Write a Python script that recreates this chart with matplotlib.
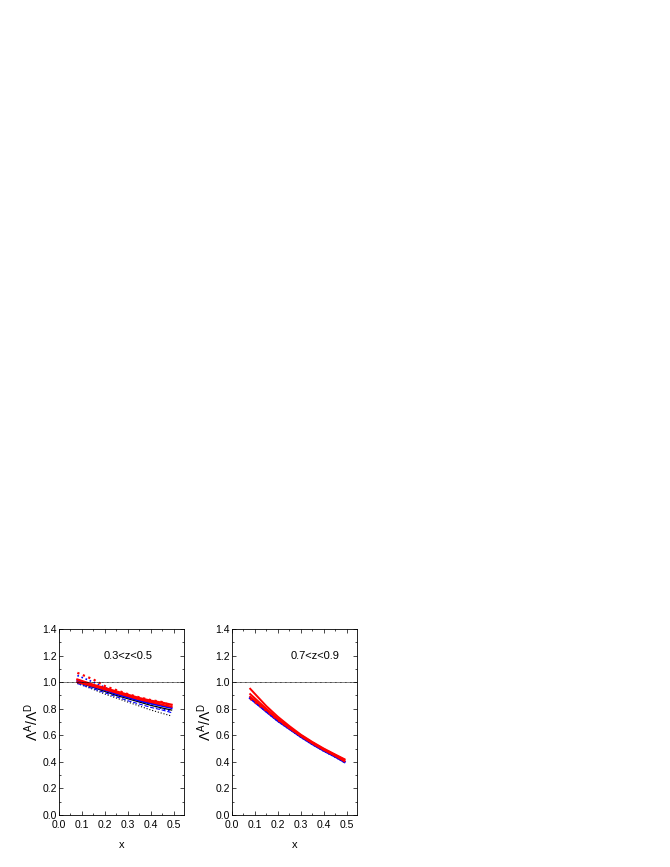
import numpy as np
import matplotlib
matplotlib.use('Agg')
import matplotlib.pyplot as plt
from matplotlib.ticker import MultipleLocator

x = np.array([0.08, 0.15, 0.20, 0.25, 0.30, 0.35, 0.40, 0.45, 0.49])

# 0.3<z<0.5
l_red1 = [1.02, 0.98, 0.955, 0.93, 0.905, 0.88, 0.86, 0.845, 0.83]
l_red2 = [1.00, 0.97, 0.945, 0.92, 0.895, 0.87, 0.85, 0.83, 0.815]
l_blue = [1.01, 0.965, 0.94, 0.91, 0.885, 0.86, 0.84, 0.82, 0.805]
l_black = [1.00, 0.96, 0.93, 0.90, 0.875, 0.85, 0.825, 0.805, 0.79]
l_blue_dash = [0.99, 0.95, 0.92, 0.89, 0.86, 0.835, 0.81, 0.79, 0.77]
l_black_dot = [0.99, 0.945, 0.91, 0.88, 0.85, 0.82, 0.79, 0.765, 0.745]
l_red_dot = [1.07, 1.02, 0.97, 0.94, 0.91, 0.885, 0.865, 0.85, 0.82]
l_blue_dot = [1.05, 1.00, 0.96, 0.92, 0.89, 0.86, 0.83, 0.80, 0.78]

# 0.7<z<0.9
r_red1 = [0.95, 0.82, 0.74, 0.67, 0.605, 0.55, 0.50, 0.455, 0.42]
r_red2 = [0.91, 0.80, 0.725, 0.66, 0.60, 0.545, 0.495, 0.45, 0.415]
r_red3 = [0.89, 0.79, 0.72, 0.655, 0.595, 0.54, 0.49, 0.445, 0.405]
r_blue = [0.88, 0.78, 0.71, 0.65, 0.59, 0.535, 0.485, 0.44, 0.40]
r_black_dot = [0.88, 0.775, 0.705, 0.645, 0.585, 0.53, 0.48, 0.435, 0.395]
r_red_dot = [0.875, 0.785, 0.715, 0.655, 0.60, 0.545, 0.495, 0.45, 0.41]

plt.rcParams['font.family'] = ['Liberation Sans', 'DejaVu Sans']
plt.rcParams['mathtext.fontset'] = 'custom'
plt.rcParams['mathtext.rm'] = 'Liberation Sans'
plt.rcParams['mathtext.it'] = 'Liberation Sans'

fig = plt.figure(figsize=(6.70, 8.67), dpi=100)
ax1 = fig.add_axes([0.088, 0.060, 0.187, 0.2145])
ax2 = fig.add_axes([0.346, 0.060, 0.187, 0.2145])

ax1.plot(x, l_black_dot, ':', color='k', lw=0.8)
ax1.plot(x, l_blue_dash, '--', color='blue', lw=0.8)
ax1.plot(x, l_blue_dot, ':', color='blue', lw=1.2)
ax1.plot(x, l_red_dot, ':', color='red', lw=1.6)
ax1.plot(x, l_black, '-', color='k', lw=0.9)
ax1.plot(x, l_blue, '-', color='blue', lw=1.4)
ax1.plot(x, l_red2, '-', color='red', lw=1.4)
ax1.plot(x, l_red1, '-', color='red', lw=1.6)
ax1.text(0.3, 1.2, '0.3<z<0.5', fontsize=8, ha='center', va='center')

ax2.plot(x, r_black_dot, ':', color='k', lw=0.9)
ax2.plot(x, r_blue, '-', color='blue', lw=1.8)
ax2.plot(x, r_red_dot, ':', color='red', lw=1.6)
ax2.plot(x, r_red3, '-', color='red', lw=1.4)
ax2.plot(x, r_red2, '-', color='red', lw=1.4)
ax2.plot(x, r_red1, '-', color='red', lw=1.4)
ax2.text(0.36, 1.2, '0.7<z<0.9', fontsize=8, ha='center', va='center')

for ax in (ax1, ax2):
    ax.axhline(1.0, color='k', ls=(0, (1, 0.5)), lw=0.6)
    ax.set_xlim(0.0, 0.545)
    ax.set_ylim(0.0, 1.4)
    ax.xaxis.set_major_locator(MultipleLocator(0.1))
    ax.xaxis.set_minor_locator(MultipleLocator(0.05))
    ax.yaxis.set_major_locator(MultipleLocator(0.2))
    ax.yaxis.set_minor_locator(MultipleLocator(0.1))
    ax.tick_params(which='both', direction='in', top=True, right=True, labelsize=7.5)
    ax.tick_params(axis='x', pad=3.5)
    ax.tick_params(axis='y', pad=1.5)
    ax.tick_params(which='major', length=3, width=0.5)
    ax.tick_params(which='minor', length=1.5, width=0.5)
    for s in ax.spines.values():
        s.set_linewidth(0.6)
    ax.set_xlabel('x', fontsize=8, labelpad=7)
    ax.set_ylabel(r'$\Lambda^A/\Lambda^D$', fontsize=10, labelpad=1)

fig.savefig('out.png', dpi=100)
